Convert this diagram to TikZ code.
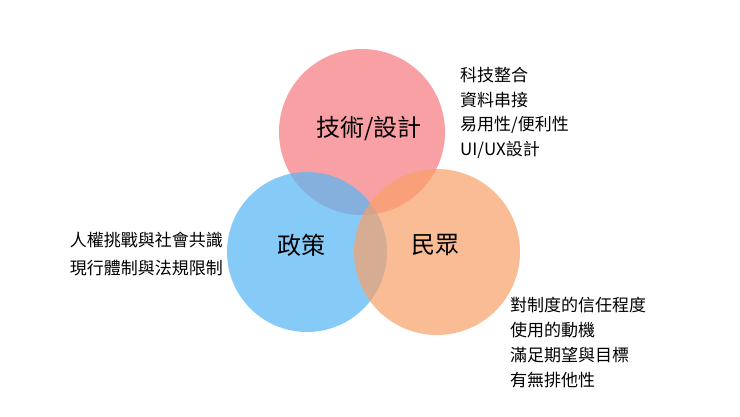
\documentclass[tikz,border=0pt]{standalone}
\usepackage{fontspec}
\setmainfont{Noto Sans CJK TC}
\begin{document}
\begin{tikzpicture}[x=1pt,y=-1pt,
  circ/.style={fill opacity=0.7,draw=none},
  lbl/.style={font=\fontsize{24}{28}\selectfont},
  note/.style={font=\fontsize{17}{20}\selectfont,anchor=west,inner sep=0}]
\useasboundingbox (0,0) rectangle (740,416);
\fill[white] (0,0) rectangle (740,416);
\fill[circ,fill={rgb,255:red,247;green,120;blue,128}] (362,132) circle (83);
\fill[circ,fill={rgb,255:red,84;green,182;blue,245}] (307,252) circle (80);
\fill[circ,fill={rgb,255:red,249;green,160;blue,104}] (437,252) circle (83);
\node[lbl] (t) at (369,129) {技術/設計};
\node[lbl] (p) at (301,245) {政策};
\node[lbl] (m) at (435,245) {民眾};
\node[note] (a1) at (460,75) {科技整合};
\node[note] (a2) at (460,100) {資料串接};
\node[note] (a3) at (460,125) {易用性/便利性};
\node[note] (a4) at (460,150) {UI/UX設計};
\node[note,anchor=east] (b1) at (223,240) {人權挑戰與社會共識};
\node[note,anchor=east] (b2) at (223,268) {現行體制與法規限制};
\node[note] (c1) at (510,305) {對制度的信任程度};
\node[note] (c2) at (510,330) {使用的動機};
\node[note] (c3) at (510,355) {滿足期望與目標};
\node[note] (c4) at (510,380) {有無排他性};
\end{tikzpicture}
\end{document}
